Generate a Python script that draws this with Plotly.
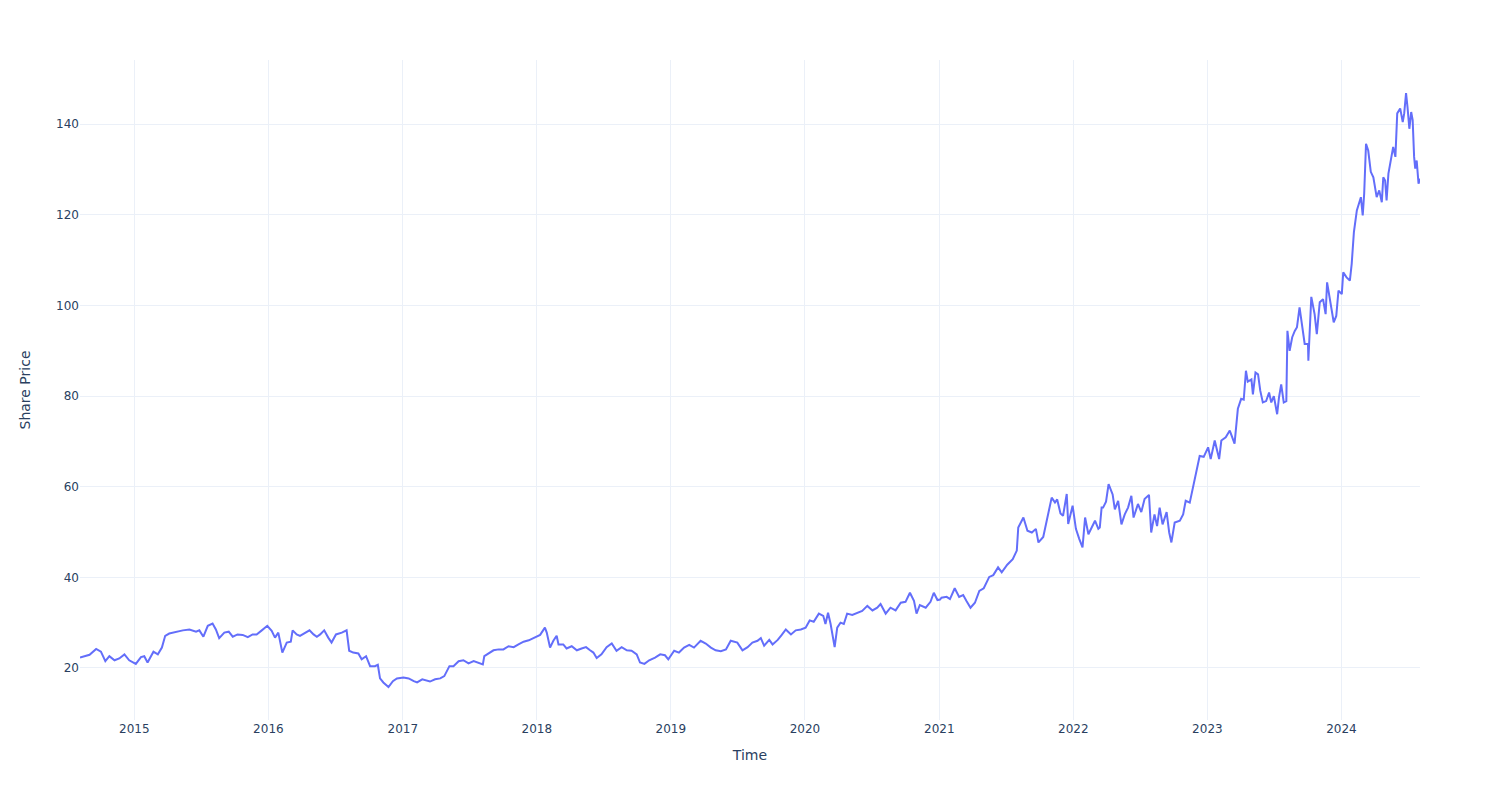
import plotly.graph_objects as go

# Share price readings (date, price)
dates_2014 = ["2014-08-06", "2014-09-01", "2014-09-19", "2014-10-02", "2014-10-14", "2014-10-25",
              "2014-11-08", "2014-11-21", "2014-12-05", "2014-12-18"]
price_2014 = [22.3, 22.9, 24.2, 23.6, 21.5, 22.6, 21.7, 22.1, 23.0, 21.7]

dates_2015 = ["2015-01-05", "2015-01-19", "2015-01-28", "2015-02-06", "2015-02-22", "2015-03-06",
              "2015-03-17", "2015-03-26", "2015-04-06", "2015-04-24", "2015-05-13", "2015-05-31",
              "2015-06-18", "2015-06-27", "2015-07-08", "2015-07-20", "2015-08-02", "2015-08-11",
              "2015-08-20", "2015-09-03", "2015-09-15", "2015-09-26", "2015-10-09", "2015-10-23",
              "2015-11-06", "2015-11-19", "2015-11-30", "2015-12-14", "2015-12-29"]
price_2015 = [20.9, 22.4, 22.6, 21.2, 23.6, 23.0, 24.5, 27.1, 27.6, 28.0, 28.3, 28.5,
              28.0, 28.3, 26.9, 29.3, 29.8, 28.5, 26.6, 27.8, 28.0, 26.9, 27.4, 27.3,
              26.8, 27.4, 27.4, 28.3, 29.3]

dates_2016 = ["2016-01-10", "2016-01-19", "2016-01-28", "2016-02-08", "2016-02-20", "2016-03-02",
              "2016-03-07", "2016-03-18", "2016-03-27", "2016-04-10", "2016-04-22", "2016-05-03",
              "2016-05-12", "2016-05-21", "2016-06-01", "2016-06-12", "2016-06-21", "2016-07-03",
              "2016-07-19", "2016-08-01", "2016-08-08", "2016-08-19", "2016-09-02", "2016-09-11",
              "2016-09-23", "2016-10-04", "2016-10-17", "2016-10-25", "2016-10-31", "2016-11-09",
              "2016-11-23", "2016-12-05", "2016-12-16"]
price_2016 = [28.2, 26.7, 27.8, 23.4, 25.6, 25.8, 28.3, 27.4, 27.1, 27.8, 28.3, 27.4,
              26.9, 27.4, 28.3, 26.7, 25.6, 27.4, 27.8, 28.3, 23.8, 23.4, 23.2, 21.9,
              22.6, 20.4, 20.4, 20.7, 17.7, 16.8, 15.8, 17.1, 17.7]

dates_2017 = ["2017-01-03", "2017-01-17", "2017-01-31", "2017-02-09", "2017-02-23", "2017-03-03",
              "2017-03-16", "2017-03-30", "2017-04-13", "2017-04-24", "2017-05-01", "2017-05-08",
              "2017-05-19", "2017-06-02", "2017-06-15", "2017-06-29", "2017-07-13", "2017-07-26",
              "2017-08-07", "2017-08-11", "2017-08-22", "2017-09-05", "2017-09-19", "2017-10-02",
              "2017-10-16", "2017-10-30", "2017-11-12", "2017-11-26", "2017-12-10", "2017-12-28"]
price_2017 = [17.9, 17.7, 17.1, 16.8, 17.5, 17.3, 17.0, 17.5, 17.7, 18.2, 19.3, 20.4,
              20.4, 21.5, 21.7, 21.0, 21.5, 21.2, 20.8, 22.6, 23.2, 23.9, 24.1, 24.1,
              24.8, 24.6, 25.2, 25.8, 26.1, 26.9]

dates_2018 = ["2018-01-10", "2018-01-23", "2018-01-28", "2018-02-06", "2018-02-15", "2018-02-24",
              "2018-03-01", "2018-03-14", "2018-03-23", "2018-04-06", "2018-04-20", "2018-05-03",
              "2018-05-15", "2018-05-26", "2018-06-04", "2018-06-13", "2018-06-26", "2018-07-10",
              "2018-07-24", "2018-08-06", "2018-08-20", "2018-09-03", "2018-09-16", "2018-09-30",
              "2018-10-09", "2018-10-21", "2018-11-03", "2018-11-19", "2018-12-03", "2018-12-16",
              "2018-12-25"]
price_2018 = [27.3, 28.9, 27.8, 24.5, 26.0, 27.1, 25.2, 25.2, 24.3, 24.8, 23.9, 24.3,
              24.6, 23.9, 23.4, 22.2, 23.0, 24.6, 25.4, 23.8, 24.6, 23.9, 23.8, 23.0,
              21.2, 20.9, 21.7, 22.3, 23.0, 22.8, 21.9]

dates_2019 = ["2019-01-10", "2019-01-23", "2019-02-06", "2019-02-20", "2019-03-05", "2019-03-23",
              "2019-04-06", "2019-04-20", "2019-05-03", "2019-05-17", "2019-05-31", "2019-06-13",
              "2019-07-01", "2019-07-15", "2019-07-29", "2019-08-11", "2019-08-25", "2019-09-03",
              "2019-09-12", "2019-09-26", "2019-10-05", "2019-10-19", "2019-10-30", "2019-11-10",
              "2019-11-24", "2019-12-07", "2019-12-21"]
price_2019 = [23.8, 23.4, 24.5, 25.1, 24.5, 26.0, 25.4, 24.5, 23.9, 23.7, 24.1, 26.0,
              25.6, 23.9, 24.6, 25.6, 26.0, 26.6, 24.9, 26.2, 25.2, 26.2, 27.3, 28.5,
              27.4, 28.3, 28.5]

dates_2020 = ["2020-01-03", "2020-01-14", "2020-01-25", "2020-02-08", "2020-02-20", "2020-02-26",
              "2020-03-04", "2020-03-11", "2020-03-18", "2020-03-22", "2020-03-29", "2020-04-07",
              "2020-04-16", "2020-04-25", "2020-05-09", "2020-05-22", "2020-06-05", "2020-06-19",
              "2020-07-03", "2020-07-16", "2020-07-25", "2020-08-08", "2020-08-21", "2020-09-04",
              "2020-09-18", "2020-10-01", "2020-10-13", "2020-10-24", "2020-10-31", "2020-11-09",
              "2020-11-25", "2020-12-08", "2020-12-17", "2020-12-27"]
price_2020 = [28.9, 30.5, 30.2, 32.0, 31.5, 29.7, 32.2, 29.7, 26.0, 24.6, 28.9, 30.0,
              29.7, 32.0, 31.7, 32.2, 32.6, 33.7, 32.7, 33.3, 34.1, 32.0, 33.3, 32.7,
              34.4, 34.6, 36.6, 34.8, 32.0, 33.9, 33.3, 34.6, 36.6, 35.0]

dates_2021 = ["2021-01-03", "2021-01-07", "2021-01-21", "2021-01-30", "2021-02-12", "2021-02-24",
              "2021-03-07", "2021-03-16", "2021-03-27", "2021-04-08", "2021-04-20", "2021-05-02",
              "2021-05-17", "2021-05-28", "2021-06-10", "2021-06-20", "2021-07-05", "2021-07-20",
              "2021-07-31", "2021-08-04", "2021-08-18", "2021-08-29", "2021-09-10", "2021-09-21",
              "2021-09-28", "2021-10-11", "2021-10-20", "2021-11-03", "2021-11-12", "2021-11-18",
              "2021-11-27", "2021-12-04", "2021-12-14", "2021-12-18", "2021-12-30"]
price_2021 = [35.1, 35.5, 35.7, 35.2, 37.6, 35.7, 36.1, 34.8, 33.3, 34.4, 37.0, 37.6,
              40.1, 40.5, 42.2, 41.1, 42.8, 44.0, 45.9, 51.0, 53.2, 50.3, 49.9, 50.7,
              47.7, 48.9, 52.5, 57.6, 56.5, 57.2, 54.1, 53.6, 58.4, 51.8, 55.8]

dates_2022 = ["2022-01-08", "2022-01-17", "2022-01-26", "2022-02-02", "2022-02-11", "2022-02-20",
              "2022-03-01", "2022-03-10", "2022-03-14", "2022-03-19", "2022-03-23", "2022-03-31",
              "2022-04-07", "2022-04-18", "2022-04-24", "2022-05-03", "2022-05-12", "2022-05-21",
              "2022-05-30", "2022-06-08", "2022-06-14", "2022-06-26", "2022-07-05", "2022-07-14",
              "2022-07-26", "2022-08-01", "2022-08-10", "2022-08-17", "2022-08-24", "2022-09-01",
              "2022-09-12", "2022-09-19", "2022-09-25", "2022-10-04", "2022-10-18", "2022-10-27",
              "2022-11-03", "2022-11-14", "2022-11-23", "2022-12-02", "2022-12-11", "2022-12-22"]
price_2022 = [50.7, 48.5, 46.6, 53.2, 49.5, 51.0, 52.5, 50.7, 51.0, 55.4, 55.4, 56.7,
              60.6, 58.3, 55.0, 56.9, 51.7, 53.9, 55.4, 58.0, 53.2, 56.2, 54.4, 57.3,
              58.2, 49.9, 53.9, 51.3, 55.4, 51.7, 54.4, 49.9, 47.7, 52.1, 52.5, 53.9,
              56.9, 56.5, 59.8, 63.2, 66.8, 66.6]

dates_2023 = ["2023-01-03", "2023-01-10", "2023-01-21", "2023-02-02", "2023-02-08", "2023-02-20",
              "2023-03-03", "2023-03-16", "2023-03-25", "2023-04-03", "2023-04-10", "2023-04-16",
              "2023-04-21", "2023-05-01", "2023-05-05", "2023-05-12", "2023-05-19", "2023-05-25",
              "2023-06-01", "2023-06-10", "2023-06-18", "2023-06-24", "2023-07-01", "2023-07-10",
              "2023-07-15", "2023-07-21", "2023-07-28", "2023-08-04", "2023-08-07", "2023-08-13",
              "2023-08-20", "2023-08-27", "2023-09-02", "2023-09-09", "2023-09-17", "2023-09-23",
              "2023-10-02", "2023-10-03", "2023-10-11", "2023-10-20", "2023-10-26", "2023-11-03",
              "2023-11-12", "2023-11-19", "2023-11-23", "2023-11-30", "2023-12-11", "2023-12-18",
              "2023-12-24"]
price_2023 = [68.7, 66.1, 70.2, 66.1, 70.2, 70.9, 72.4, 69.5, 77.2, 79.4, 79.2, 85.6,
              83.2, 83.7, 80.4, 85.2, 84.8, 81.2, 78.6, 78.9, 80.8, 78.6, 80.0, 76.0,
              79.7, 82.6, 78.6, 78.9, 94.4, 90.0, 93.0, 94.4, 95.2, 99.6, 95.2, 91.5,
              91.5, 87.8, 101.9, 98.1, 93.7, 100.7, 101.4, 98.1, 105.1, 101.8, 96.3, 97.7,
              103.3]

dates_2024 = ["2024-01-02", "2024-01-06", "2024-01-15", "2024-01-24", "2024-01-29", "2024-02-04",
              "2024-02-12", "2024-02-17", "2024-02-23", "2024-02-28", "2024-03-03", "2024-03-08",
              "2024-03-14", "2024-03-21", "2024-03-28", "2024-04-06", "2024-04-13", "2024-04-20",
              "2024-04-24", "2024-04-29", "2024-05-03", "2024-05-08", "2024-05-14", "2024-05-21",
              "2024-05-27", "2024-06-01", "2024-06-09", "2024-06-16", "2024-06-20", "2024-06-25",
              "2024-06-29", "2024-07-04", "2024-07-09", "2024-07-13", "2024-07-17", "2024-07-20",
              "2024-07-24", "2024-07-29", "2024-08-02"]
price_2024 = [102.5, 107.3, 106.2, 105.5, 109.2, 116.2, 121.0, 122.4, 123.9, 119.9, 124.7, 135.7,
              134.2, 129.5, 128.3, 123.9, 125.4, 122.8, 128.3, 127.6, 123.2, 129.1, 132.0, 135.0,
              132.8, 142.4, 143.5, 140.5, 142.4, 146.9, 143.8, 139.0, 142.7, 140.9, 132.8, 130.2,
              132.0, 126.9, 128.0]

dates = (dates_2014 + dates_2015 + dates_2016 + dates_2017 + dates_2018 + dates_2019
         + dates_2020 + dates_2021 + dates_2022 + dates_2023 + dates_2024)
prices = (price_2014 + price_2015 + price_2016 + price_2017 + price_2018 + price_2019
          + price_2020 + price_2021 + price_2022 + price_2023 + price_2024)

fig = go.Figure()
fig.add_trace(go.Scatter(x=dates, y=prices, mode="lines",
                         line=dict(color="#636efa", width=2), showlegend=False))
fig.update_layout(
    template="plotly_white",
    width=1500, height=800,
    margin=dict(l=80, r=80, t=60, b=80),
    font=dict(family="DejaVu Sans, Verdana, sans-serif"),
    xaxis_title="Time",
    yaxis=dict(title=dict(text="Share Price", standoff=22)),
)
fig.write_html("out.html")
